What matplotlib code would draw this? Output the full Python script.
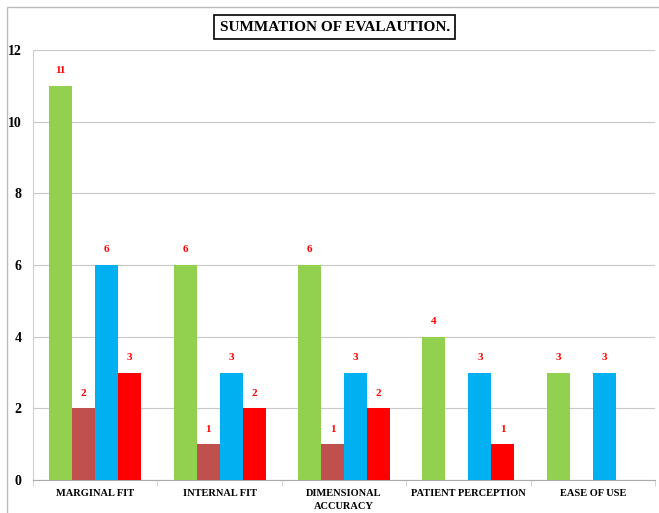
import matplotlib
matplotlib.use('Agg')
import matplotlib.pyplot as plt
import numpy as np
from matplotlib.patches import Rectangle

categories = ['MARGINAL FIT', 'INTERNAL FIT', 'DIMENSIONAL\nACCURACY',
              'PATIENT PERCEPTION', 'EASE OF USE']
green_vals = [11, 6, 6, 4, 3]
brown_vals = [2, 1, 1, 0, 0]
blue_vals = [6, 3, 3, 3, 3]
red_vals = [3, 2, 2, 1, 0]
colors = ['#92D050', '#C0504D', '#00B0F0', '#FF0000']

plt.rcParams['font.family'] = ['Liberation Serif', 'DejaVu Serif']
plt.rcParams['font.weight'] = 'bold'

fig = plt.figure(figsize=(6.59, 5.13), dpi=100)
ax = fig.add_axes([0.05, 0.064, 0.944, 0.8385])

x = np.arange(len(categories))
w = 0.185
series = [green_vals, brown_vals, blue_vals, red_vals]
for i, (vals, c) in enumerate(zip(series, colors)):
    pos = x + (i - 1.5) * w
    bars = ax.bar(pos, vals, width=w, color=c, zorder=3)
    for b, v in zip(bars, vals):
        if v > 0:
            ax.text(b.get_x() + b.get_width() / 2, v + 0.3, str(v),
                    ha='center', va='bottom', color='red',
                    fontsize=8, fontweight='bold')

ax.set_xlim(-0.5, len(categories) - 0.5)
ax.set_ylim(0, 12)
ax.set_yticks(range(0, 13, 2))
ax.yaxis.grid(True, color='#c8c8c8', linewidth=0.8, zorder=0)
ax.set_xticks(x)
ax.set_xticklabels(categories, fontsize=7.5, fontweight='bold', linespacing=1.7)
ax.set_xticks(np.arange(-0.5, len(categories) + 0.5, 1), minor=True)
ax.tick_params(axis='x', which='major', length=0, pad=6)
ax.tick_params(axis='x', which='minor', length=4, color='#cccccc')
ax.tick_params(axis='y', length=0, labelsize=10, pad=8)
for lbl in ax.get_yticklabels():
    lbl.set_fontweight('bold')
for s in ['top', 'right']:
    ax.spines[s].set_visible(False)
ax.spines['left'].set_color('#d0d0d0')
ax.spines['bottom'].set_color('#aaaaaa')

fig.text(0.508, 0.947, 'SUMMATION OF EVALAUTION.', ha='center', va='center',
         fontsize=11, fontweight='bold',
         bbox=dict(boxstyle='square,pad=0.35', facecolor='white',
                   edgecolor='black', linewidth=1.2))

fig.patches.append(Rectangle((0.011, -0.01), 0.99, 0.997, transform=fig.transFigure,
                             fill=False, edgecolor='#bbbbbb', linewidth=1))

fig.savefig('out.png', dpi=100)
